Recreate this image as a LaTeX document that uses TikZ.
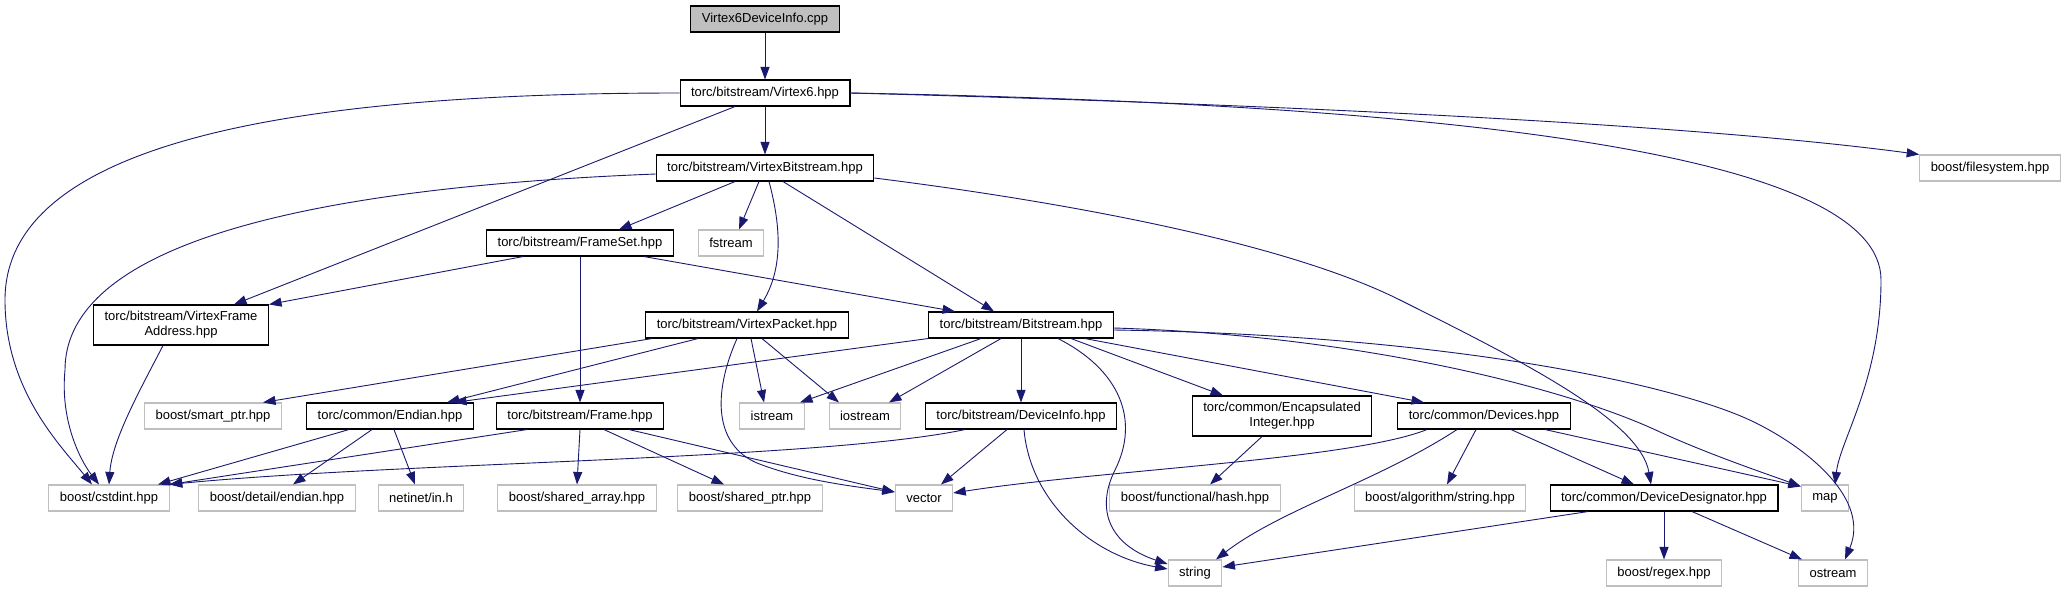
\documentclass[tikz,border=0pt]{standalone}
\usepackage{fontspec}
\setmainfont{Liberation Sans}
\usetikzlibrary{arrows.meta}
\definecolor{edgeblue}{HTML}{191970}
\definecolor{extgray}{HTML}{BFBFBF}
\tikzset{
  file/.style={draw=black, line width=1.1pt, inner xsep=11pt, inner ysep=0pt, minimum height=26pt, font=\fontsize{13}{15}\selectfont, align=center},
  extfile/.style={file, draw=extgray},
  rootfile/.style={file, fill=extgray},
  twoline/.style={minimum height=40pt},
  dep/.style={draw=edgeblue, line width=0.9pt, -{Triangle[length=12.5pt,width=9pt]}}
}

\begin{document}
\begin{tikzpicture}[x=1pt,y=-1pt]
\path[use as bounding box, fill=white] (0,0) rectangle (2064,592);
\node[rootfile] (cpp) at (765,19) {Virtex6DeviceInfo.cpp};
\node[file] (v6) at (765,93) {torc/bitstream/Virtex6.hpp};
\node[file] (vb) at (765,168) {torc/bitstream/VirtexBitstream.hpp};
\node[extfile] (fsys) at (1990,168) {boost/filesystem.hpp};
\node[file] (frameset) at (580,243) {torc/bitstream/FrameSet.hpp};
\node[extfile] (fstream) at (731,243) {fstream};
\node[file, twoline] (vfa) at (181,325) {torc/bitstream/VirtexFrame\\Address.hpp};
\node[file] (vpacket) at (747,325) {torc/bitstream/VirtexPacket.hpp};
\node[file] (bitstream) at (1021,325) {torc/bitstream/Bitstream.hpp};
\node[extfile] (smartptr) at (213,416) {boost/smart\_ptr.hpp};
\node[file] (endian) at (390,416) {torc/common/Endian.hpp};
\node[file] (frame) at (580,416) {torc/bitstream/Frame.hpp};
\node[extfile] (istream) at (772,416) {istream};
\node[extfile] (iostream) at (865,416) {iostream};
\node[file] (devinfo) at (1021,416) {torc/bitstream/DeviceInfo.hpp};
\node[file, twoline] (encint) at (1282,416) {torc/common/Encapsulated\\Integer.hpp};
\node[file] (devices) at (1484,416) {torc/common/Devices.hpp};
\node[extfile] (cstdint) at (109,498) {boost/cstdint.hpp};
\node[extfile] (detendian) at (277,498) {boost/detail/endian.hpp};
\node[extfile] (netinet) at (421,498) {netinet/in.h};
\node[extfile] (sharedarray) at (577,498) {boost/shared\_array.hpp};
\node[extfile] (sharedptr) at (750,498) {boost/shared\_ptr.hpp};
\node[extfile] (vector) at (924,498) {vector};
\node[extfile] (hash) at (1195,498) {boost/functional/hash.hpp};
\node[extfile] (algstring) at (1440,498) {boost/algorithm/string.hpp};
\node[file] (devdes) at (1664,498) {torc/common/DeviceDesignator.hpp};
\node[extfile] (map) at (1825,498) {map};
\node[extfile] (string) at (1195,573) {string};
\node[extfile] (regex) at (1664,573) {boost/regex.hpp};
\node[extfile] (ostream) at (1833,573) {ostream};

\draw[dep] (cpp.south) -- (v6.north);
\draw[dep] (v6.west) .. controls (300,93) and (5,140) .. (5,300) .. controls (5,390) and (60,445) .. ([xshift=-17pt]cstdint.north);
\draw[dep] ([xshift=-30pt]v6.south) -- ([xshift=53pt]vfa.north);
\draw[dep] (v6.south) -- (vb.north);
\draw[dep] (v6.east) .. controls (1500,105) and (1881,160) .. (1881,280) .. controls (1881,380) and (1840,440) .. ([xshift=10pt]map.north);
\draw[dep] (v6.east) .. controls (1300,105) and (1700,125) .. (fsys.north west);
\draw[dep] ([yshift=-6pt]vb.west) .. controls (250,190) and (65,260) .. (65,370) .. controls (60,420) and (80,460) .. ([xshift=-10pt]cstdint.north);
\draw[dep] ([xshift=-30pt]vb.south) -- ([xshift=39pt]frameset.north);
\draw[dep] ([xshift=-6pt]vb.south) -- ([xshift=8pt]fstream.north);
\draw[dep] ([xshift=4pt]vb.south) .. controls (782,230) and (782,270) .. ([xshift=10pt]vpacket.north);
\draw[dep] ([xshift=18pt]vb.south) -- ([xshift=-27pt]bitstream.north);
\draw[dep] ([yshift=-10pt]vb.east) .. controls (1050,200) and (1280,240) .. (1400,300) .. controls (1520,360) and (1640,420) .. ([xshift=-13pt]devdes.north);
\draw[dep] ([xshift=-57pt]frameset.south) -- (vfa.north east);
\draw[dep] (frameset.south) -- (frame.north);
\draw[dep] ([xshift=64pt]frameset.south) -- ([xshift=-66pt]bitstream.north);
\draw[dep] ([xshift=-18pt]vfa.south) .. controls (140,390) and (112,440) .. (cstdint.north);
\draw[dep] ([xshift=-95pt]vpacket.south) -- ([xshift=50pt]smartptr.north);
\draw[dep] ([xshift=-49pt]vpacket.south) -- ([xshift=57pt]endian.north);
\draw[dep] ([xshift=4pt]vpacket.south) -- ([xshift=-8pt]istream.north);
\draw[dep] ([xshift=15pt]vpacket.south) -- ([xshift=-26pt]iostream.north);
\draw[dep] ([xshift=-10pt]vpacket.south) .. controls (712,395) and (715,445) .. (757,463) .. controls (800,480) and (850,486) .. ([yshift=6pt]vector.west);
\draw[dep] ([xshift=-93pt]bitstream.south) -- ([xshift=64pt]endian.north);
\draw[dep] ([xshift=-40pt]bitstream.south) -- ([xshift=28pt]istream.north);
\draw[dep] ([xshift=-20pt]bitstream.south) -- ([xshift=24pt]iostream.north);
\draw[dep] (bitstream.south) -- (devinfo.north);
\draw[dep] ([xshift=37pt]bitstream.south) .. controls (1120,370) and (1140,420) .. (1115,470) .. controls (1095,510) and (1110,545) .. ([yshift=9pt]string.west);
\draw[dep] ([xshift=50pt]bitstream.south) -- ([xshift=-59pt]encint.north);
\draw[dep] ([xshift=64pt]bitstream.south) -- ([xshift=-60pt]devices.north);
\draw[dep] ([yshift=-3pt]bitstream.east) .. controls (1350,335) and (1560,385) .. (1660,432) .. controls (1710,455) and (1770,475) .. ([yshift=-2pt]map.north west);
\draw[dep] ([yshift=-5pt]bitstream.east) .. controls (1450,335) and (1680,385) .. (1756,423) .. controls (1810,450) and (1870,500) .. ([xshift=12pt]ostream.north);
\draw[dep] ([xshift=-41pt]endian.south) -- ([xshift=49pt]cstdint.north);
\draw[dep] ([xshift=-18pt]endian.south) -- ([xshift=16pt]detendian.north);
\draw[dep] ([xshift=4pt]endian.south) -- ([xshift=-6pt]netinet.north);
\draw[dep] ([xshift=-53pt]frame.south) -- (cstdint.north east);
\draw[dep] (frame.south) -- (sharedarray.north);
\draw[dep] ([xshift=24pt]frame.south) -- ([xshift=-26pt]sharedptr.north);
\draw[dep] ([xshift=49pt]frame.south) -- ([yshift=6pt]vector.west);
\draw[dep] ([xshift=-56pt]devinfo.south) .. controls (820,460) and (400,462) .. (cstdint.north east);
\draw[dep] ([xshift=-14pt]devinfo.south) -- ([xshift=17pt]vector.north);
\draw[dep] ([xshift=3pt]devinfo.south) .. controls (1030,500) and (1090,555) .. ([yshift=4pt]string.west);
\draw[dep] ([xshift=-20pt]encint.south) -- ([xshift=15pt]hash.north);
\draw[dep] ([xshift=-57pt]devices.south) .. controls (1350,460) and (1100,470) .. ([yshift=5pt]vector.east);
\draw[dep] ([xshift=-27pt]devices.south) .. controls (1380,480) and (1280,510) .. ([xshift=21pt]string.north);
\draw[dep] ([xshift=-8pt]devices.south) -- ([xshift=7pt]algstring.north);
\draw[dep] ([xshift=27pt]devices.south) -- ([xshift=-30pt]devdes.north);
\draw[dep] ([xshift=61pt]devices.south) -- ([yshift=-2pt]map.north west);
\draw[dep] ([xshift=-76pt]devdes.south) -- ([yshift=6pt]string.east);
\draw[dep] (devdes.south) -- (regex.north);
\draw[dep] ([xshift=28pt]devdes.south) -- ([xshift=-31pt]ostream.north);
\end{tikzpicture}
\end{document}
